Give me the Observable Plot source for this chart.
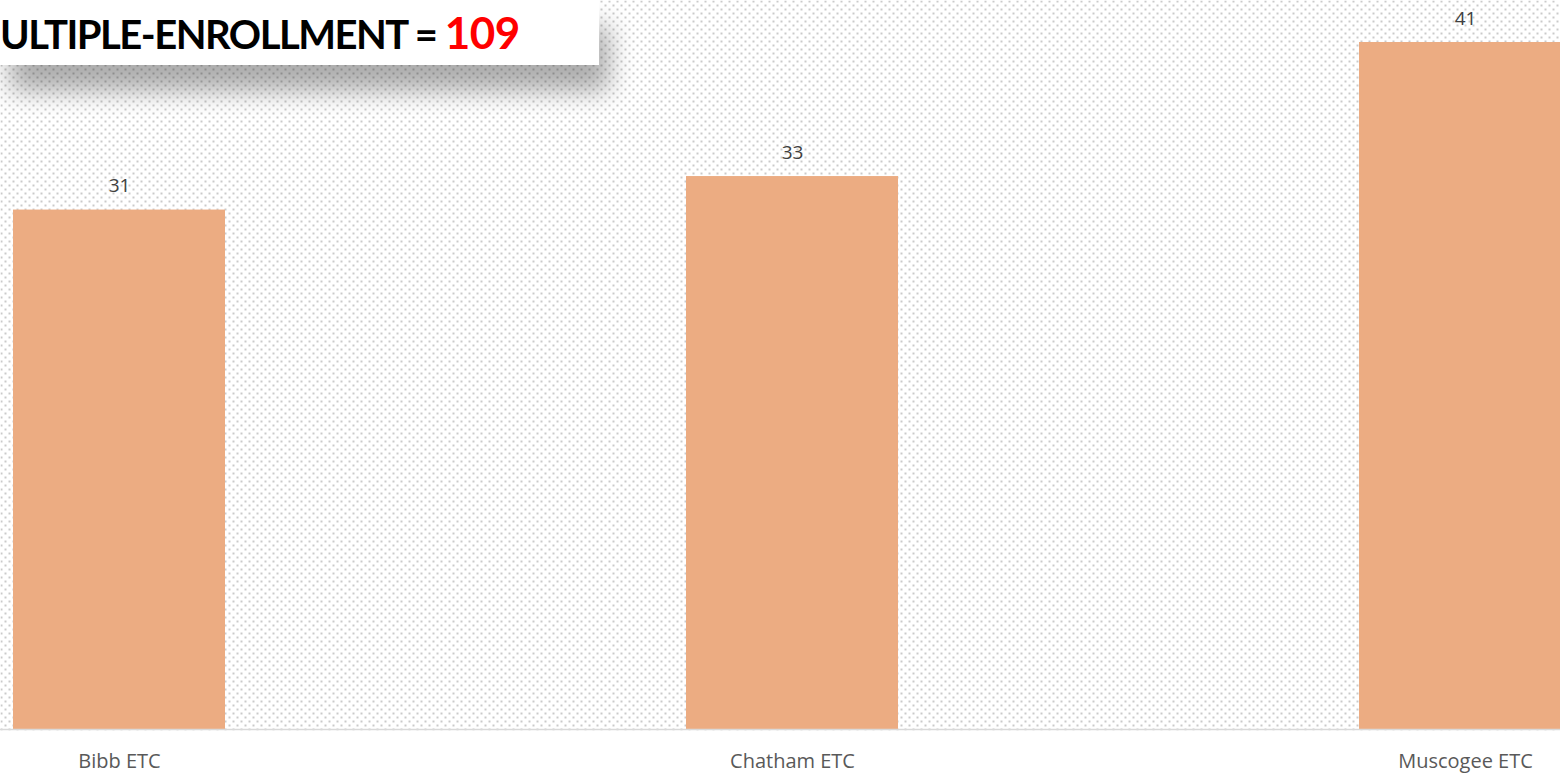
<!DOCTYPE html>
<html>
<head>
<meta charset="utf-8">
<script src="https://cdn.jsdelivr.net/npm/d3@7"></script>
<script src="https://cdn.jsdelivr.net/npm/@observablehq/plot@0.6"></script>
<style>
  html, body { margin: 0; padding: 0; background: #fff; overflow: hidden; }
  #wrap { position: relative; width: 1560px; height: 774px; overflow: hidden; }
  #title {
    position: absolute; left: 0; top: 0; width: 599px; height: 65px;
    background: #fff; box-shadow: 10px 26px 26px rgba(0,0,0,0.32);
    font-family: Lato, sans-serif; font-weight: 700; font-size: 40px;
    letter-spacing: -1.5px;
    line-height: 65px; white-space: nowrap; color: #000;
  }
  #title .num { color: #ff0000; font-size: 44px; letter-spacing: -0.5px; }
</style>
</head>
<body>
<div id="wrap"><div id="chart"></div><div id="title"></div></div>
<script>
const categories = ["Bibb ETC", "Chatham ETC", "Muscogee ETC"];
const values = [31, 33, 41];
const titleText = "ULTIPLE-ENROLLMENT = ";
const titleTotal = "109";

const data = categories.map((c, i) => ({category: c, value: values[i]}));

const chart = Plot.plot({
  width: 1560,
  height: 774,
  marginTop: 0,
  marginLeft: 0,
  marginRight: 0,
  marginBottom: 44,
  style: {background: "transparent", overflow: "hidden"},
  x: {domain: categories, range: [-449, 2032], padding: 0.685, label: null},
  y: {domain: [0, 41], range: [729, 42], axis: null},
  marks: [
    Plot.frame({fill: "url(#dots)", stroke: null}),
    Plot.barY(data, {x: "category", y: "value", fill: "#ecac82"}),
    Plot.ruleY([0], {stroke: "#d9d9d9", strokeWidth: 1.5}),
    Plot.text(data, {x: "category", y: "value", text: d => String(d.value), dy: -24,
      fontSize: 19, fill: "#404040", fontFamily: "Open Sans"}),
    Plot.axisX({tickSize: 0, tickPadding: 23, fontSize: 20, color: "#595959",
      fontFamily: "Open Sans", label: null})
  ]
});

const svg = d3.select(chart);
const pat = svg.insert("defs", ":first-child").append("pattern")
  .attr("id", "dots").attr("patternUnits", "userSpaceOnUse")
  .attr("width", 8).attr("height", 8);
pat.append("rect").attr("x", 0).attr("y", 0).attr("width", 2).attr("height", 2).attr("fill", "#cacaca");
pat.append("rect").attr("x", 4).attr("y", 4).attr("width", 2).attr("height", 2).attr("fill", "#cacaca");

document.getElementById("chart").appendChild(chart);
const t = document.getElementById("title");
t.appendChild(document.createTextNode(titleText));
const s = document.createElement("span");
s.className = "num";
s.textContent = titleTotal;
t.appendChild(s);
</script>
</body>
</html>
